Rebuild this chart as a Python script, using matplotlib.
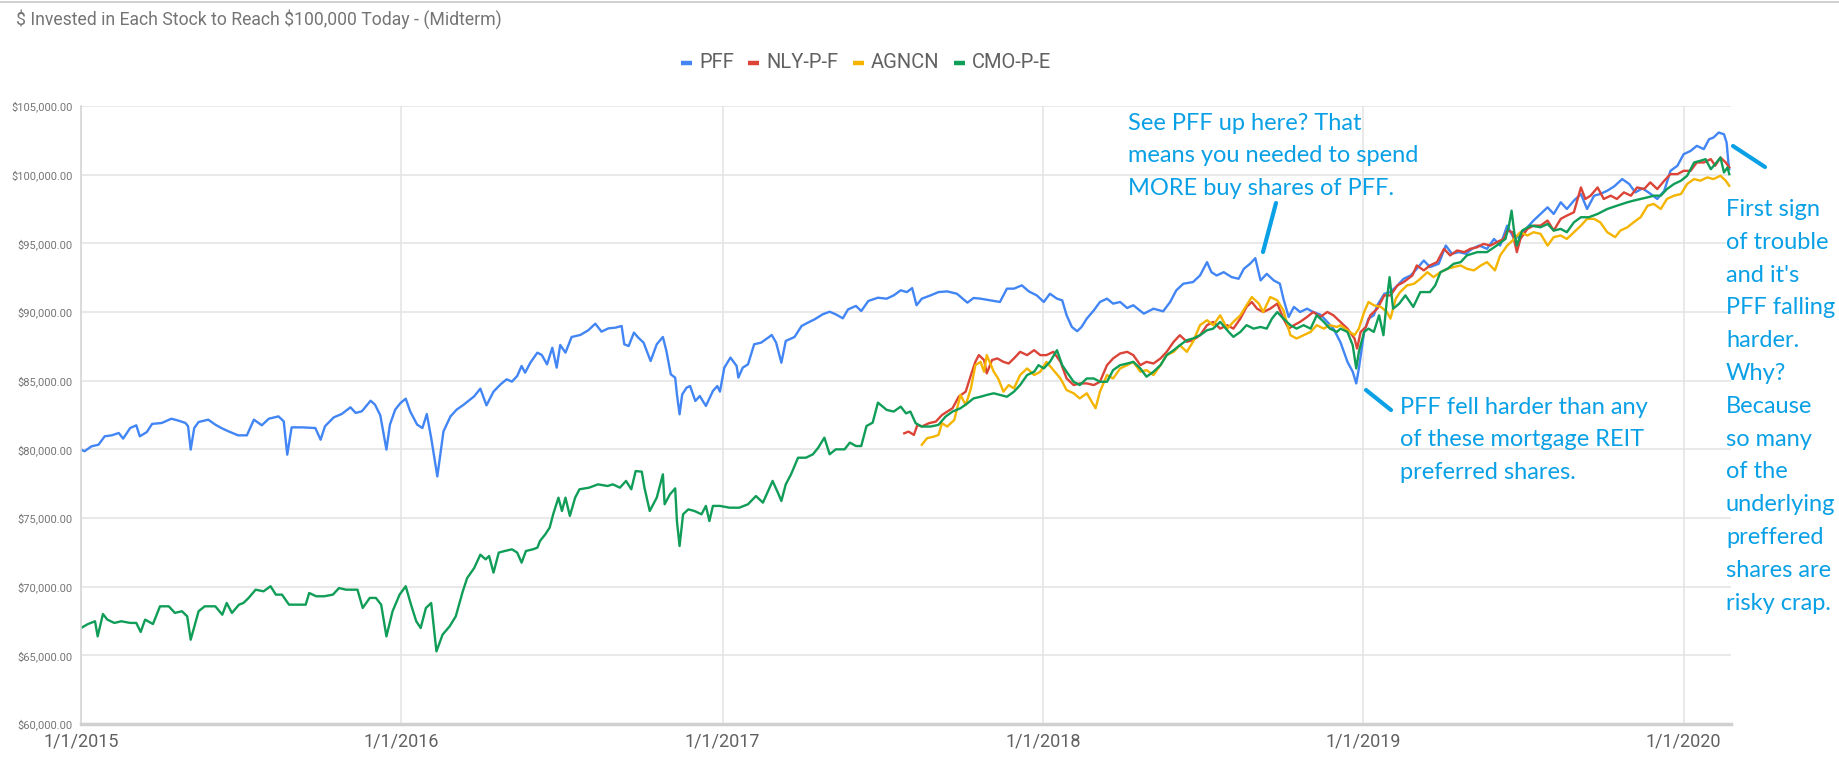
import matplotlib
matplotlib.use("Agg")
import matplotlib.pyplot as plt
from matplotlib.ticker import FuncFormatter
from matplotlib.lines import Line2D
import pandas as pd

TITLE = "$ Invested in Each Stock to Reach $100,000 Today - (Midterm)"
SERIES_NAMES = ["PFF", "NLY-P-F", "AGNCN", "CMO-P-E"]
SERIES_COLORS = ["#4285F4", "#DB4437", "#F4B400", "#0F9D58"]
X_TICKS = ["2015-01-01", "2016-01-01", "2017-01-01", "2018-01-01", "2019-01-01", "2020-01-01"]
X_TICK_LABELS = ["1/1/2015", "1/1/2016", "1/1/2017", "1/1/2018", "1/1/2019", "1/1/2020"]
Y_TICKS = [60000, 65000, 70000, 75000, 80000, 85000, 90000, 95000, 100000, 105000]

pff = [
    ("2015-01-01", 79980), ("2015-01-05", 79860), ("2015-01-13", 80220), ("2015-01-21", 80340),
    ("2015-01-28", 80950), ("2015-02-05", 81020), ("2015-02-13", 81190), ("2015-02-18", 80780),
    ("2015-02-26", 81550), ("2015-03-05", 81750), ("2015-03-09", 80950), ("2015-03-17", 81260),
    ("2015-03-23", 81850), ("2015-04-03", 81920), ("2015-04-14", 82230), ("2015-04-22", 82090),
    ("2015-04-30", 81920), ("2015-05-03", 81680), ("2015-05-06", 79980), ("2015-05-10", 81550),
    ("2015-05-15", 81990), ("2015-05-26", 82160), ("2015-06-03", 81800), ("2015-06-10", 81550),
    ("2015-06-18", 81310), ("2015-06-29", 81020), ("2015-07-09", 81020), ("2015-07-17", 82160),
    ("2015-07-26", 81750), ("2015-08-03", 82230), ("2015-08-14", 82400), ("2015-08-20", 82040),
    ("2015-08-24", 79610), ("2015-08-29", 81600), ("2015-09-10", 81600), ("2015-09-25", 81550),
    ("2015-10-01", 80700), ("2015-10-06", 81680), ("2015-10-16", 82330), ("2015-10-25", 82570),
    ("2015-11-04", 83060), ("2015-11-10", 82650), ("2015-11-17", 82770), ("2015-11-27", 83540),
    ("2015-12-02", 83250), ("2015-12-08", 82480), ("2015-12-15", 79980), ("2015-12-19", 81800),
    ("2015-12-25", 82890), ("2015-12-31", 83370), ("2016-01-06", 83690), ("2016-01-11", 82770),
    ("2016-01-19", 81800), ("2016-01-25", 81550), ("2016-01-30", 82570), ("2016-02-04", 80830),
    ("2016-02-11", 78030), ("2016-02-18", 81310), ("2016-02-26", 82400), ("2016-03-04", 82890),
    ("2016-03-12", 83250), ("2016-03-24", 83860), ("2016-03-31", 84420), ("2016-04-07", 83200),
    ("2016-04-15", 84200), ("2016-04-23", 84730), ("2016-04-30", 85100), ("2016-05-06", 84930),
    ("2016-05-12", 85340), ("2016-05-17", 86070), ("2016-05-21", 85580), ("2016-05-27", 86310),
    ("2016-06-04", 87040), ("2016-06-09", 86870), ("2016-06-15", 86190), ("2016-06-21", 87400),
    ("2016-06-26", 85950), ("2016-06-30", 87600), ("2016-07-06", 87040), ("2016-07-13", 88180),
    ("2016-07-23", 88330), ("2016-08-01", 88670), ("2016-08-09", 89150), ("2016-08-16", 88570),
    ("2016-08-24", 88810), ("2016-09-01", 88860), ("2016-09-08", 88980), ("2016-09-11", 87650),
    ("2016-09-16", 87520), ("2016-09-22", 88500), ("2016-09-27", 88130), ("2016-10-03", 87770),
    ("2016-10-11", 86430), ("2016-10-18", 87650), ("2016-10-25", 88180), ("2016-10-29", 87160),
    ("2016-11-03", 85460), ("2016-11-08", 85220), ("2016-11-10", 84000), ("2016-11-13", 82550),
    ("2016-11-16", 84000), ("2016-11-21", 84490), ("2016-11-25", 84610), ("2016-12-01", 83520),
    ("2016-12-06", 83880), ("2016-12-13", 83160), ("2016-12-21", 84250), ("2016-12-26", 84610),
    ("2016-12-29", 84200), ("2017-01-03", 85950), ("2017-01-10", 86680), ("2017-01-17", 86070),
    ("2017-01-19", 85220), ("2017-01-24", 85950), ("2017-01-30", 86190), ("2017-02-06", 87650),
    ("2017-02-14", 87770), ("2017-02-23", 88180), ("2017-02-26", 88330), ("2017-03-03", 87770),
    ("2017-03-09", 86310), ("2017-03-14", 87890), ("2017-03-24", 88180), ("2017-04-01", 88980),
    ("2017-04-08", 89220), ("2017-04-16", 89470), ("2017-04-25", 89830), ("2017-05-03", 90020),
    ("2017-05-10", 89830), ("2017-05-18", 89540), ("2017-05-24", 90190), ("2017-06-02", 90440),
    ("2017-06-08", 90070), ("2017-06-16", 90800), ("2017-06-27", 91040), ("2017-07-07", 90970),
    ("2017-07-15", 91210), ("2017-07-23", 91580), ("2017-07-30", 91450), ("2017-08-05", 91740),
    ("2017-08-10", 90490), ("2017-08-16", 90970), ("2017-08-26", 91210), ("2017-09-04", 91450),
    ("2017-09-14", 91500), ("2017-09-25", 91330), ("2017-10-07", 90680), ("2017-10-14", 91020),
    ("2017-10-22", 90970), ("2017-11-02", 90850), ("2017-11-13", 90730), ("2017-11-21", 91700),
    ("2017-11-29", 91700), ("2017-12-08", 91940), ("2017-12-16", 91500), ("2017-12-25", 91210),
    ("2018-01-02", 90730), ("2018-01-09", 91330), ("2018-01-17", 90970), ("2018-01-23", 90850),
    ("2018-01-28", 89760), ("2018-02-03", 88910), ("2018-02-09", 88600), ("2018-02-14", 88910),
    ("2018-02-20", 89520), ("2018-02-28", 90120), ("2018-03-07", 90730), ("2018-03-15", 90970),
    ("2018-03-22", 90610), ("2018-03-30", 90730), ("2018-04-07", 90290), ("2018-04-14", 90490),
    ("2018-04-26", 89880), ("2018-05-07", 90240), ("2018-05-18", 90050), ("2018-05-26", 90730),
    ("2018-06-02", 91580), ("2018-06-10", 92060), ("2018-06-21", 92180), ("2018-06-29", 92660),
    ("2018-07-07", 93630), ("2018-07-12", 92900), ("2018-07-18", 92660), ("2018-07-26", 92900),
    ("2018-08-04", 92540), ("2018-08-12", 92420), ("2018-08-18", 93150), ("2018-08-25", 93510),
    ("2018-08-31", 93920), ("2018-09-06", 92300), ("2018-09-13", 92780), ("2018-09-21", 92300),
    ("2018-09-28", 92060), ("2018-10-02", 90970), ("2018-10-08", 89640), ("2018-10-14", 90370),
    ("2018-10-21", 90000), ("2018-10-29", 90240), ("2018-11-05", 90000), ("2018-11-13", 89810),
    ("2018-11-21", 89280), ("2018-11-28", 88790), ("2018-12-06", 87800), ("2018-12-14", 86370),
    ("2018-12-20", 85650), ("2018-12-24", 84800), ("2018-12-27", 85890), ("2019-01-02", 88550),
    ("2019-01-07", 89520), ("2019-01-13", 89760), ("2019-01-17", 90490), ("2019-01-25", 91330),
    ("2019-02-01", 91450), ("2019-02-09", 91940), ("2019-02-16", 92420), ("2019-02-24", 92660),
    ("2019-03-03", 93150), ("2019-03-11", 93750), ("2019-03-18", 93270), ("2019-03-28", 93510),
    ("2019-04-05", 94840), ("2019-04-12", 94240), ("2019-04-20", 94360), ("2019-04-28", 94240),
    ("2019-05-05", 94600), ("2019-05-13", 94840), ("2019-05-22", 94600), ("2019-05-30", 95320),
    ("2019-06-06", 94840), ("2019-06-14", 96290), ("2019-06-22", 95320), ("2019-06-29", 95570),
    ("2019-07-07", 96170), ("2019-07-14", 96660), ("2019-07-22", 97140), ("2019-07-30", 97620),
    ("2019-08-06", 97140), ("2019-08-14", 97990), ("2019-08-21", 97500), ("2019-08-29", 98110),
    ("2019-09-06", 98590), ("2019-09-13", 97500), ("2019-09-21", 98470), ("2019-09-28", 98590),
    ("2019-10-06", 98830), ("2019-10-14", 99150), ("2019-10-23", 99680), ("2019-10-31", 99320),
    ("2019-11-07", 98710), ("2019-11-15", 99000), ("2019-11-22", 98710), ("2019-12-02", 98230),
    ("2019-12-10", 98830), ("2019-12-17", 100280), ("2019-12-25", 100650), ("2020-01-01", 101490),
    ("2020-01-09", 101730), ("2020-01-16", 102100), ("2020-01-24", 101860), ("2020-01-30", 102580),
    ("2020-02-04", 102700), ("2020-02-10", 103070), ("2020-02-16", 102940), ("2020-02-19", 102340),
    ("2020-02-21", 100890), ("2020-02-22", 100400),
]

nly = [
    ("2017-07-27", 81170), ("2017-08-01", 81290), ("2017-08-07", 81050), ("2017-08-11", 81780),
    ("2017-08-16", 81660), ("2017-08-24", 81900), ("2017-09-01", 82020), ("2017-09-08", 82500),
    ("2017-09-14", 82750), ("2017-09-20", 82990), ("2017-09-27", 83830), ("2017-10-05", 84200),
    ("2017-10-11", 85410), ("2017-10-16", 86370), ("2017-10-20", 86860), ("2017-10-26", 86500),
    ("2017-10-29", 85530), ("2017-11-04", 86500), ("2017-11-10", 86620), ("2017-11-17", 86370),
    ("2017-11-23", 86250), ("2017-11-29", 86620), ("2017-12-06", 87100), ("2017-12-14", 86860),
    ("2017-12-22", 87220), ("2017-12-29", 86860), ("2018-01-05", 86860), ("2018-01-13", 87100),
    ("2018-01-21", 86370), ("2018-01-28", 85160), ("2018-02-05", 84680), ("2018-02-12", 84800),
    ("2018-02-20", 84800), ("2018-02-28", 84680), ("2018-03-07", 84920), ("2018-03-15", 86130),
    ("2018-03-22", 86620), ("2018-03-30", 86980), ("2018-04-07", 87100), ("2018-04-14", 86860),
    ("2018-04-22", 86130), ("2018-04-29", 86370), ("2018-05-07", 86250), ("2018-05-15", 86620),
    ("2018-05-22", 87100), ("2018-05-30", 87830), ("2018-06-06", 88310), ("2018-06-14", 87830),
    ("2018-06-21", 87950), ("2018-06-29", 88310), ("2018-07-07", 89040), ("2018-07-14", 89280),
    ("2018-07-22", 88790), ("2018-07-30", 89040), ("2018-08-06", 88790), ("2018-08-14", 89520),
    ("2018-08-21", 90370), ("2018-08-27", 90730), ("2018-09-02", 90240), ("2018-09-09", 90000),
    ("2018-09-17", 90240), ("2018-09-25", 90610), ("2018-10-02", 89520), ("2018-10-08", 88790),
    ("2018-10-14", 89040), ("2018-10-21", 89280), ("2018-10-29", 89640), ("2018-11-05", 90000),
    ("2018-11-13", 89640), ("2018-11-21", 90000), ("2018-11-28", 89760), ("2018-12-06", 89280),
    ("2018-12-14", 88790), ("2018-12-22", 88070), ("2018-12-25", 87340), ("2018-12-29", 88550),
    ("2019-01-04", 88910), ("2019-01-09", 89760), ("2019-01-17", 90240), ("2019-01-25", 91210),
    ("2019-02-01", 91210), ("2019-02-09", 91940), ("2019-02-16", 92180), ("2019-02-26", 92660),
    ("2019-03-03", 93390), ("2019-03-11", 93030), ("2019-03-18", 93390), ("2019-03-26", 93630),
    ("2019-04-03", 94600), ("2019-04-10", 94120), ("2019-04-18", 94480), ("2019-04-26", 94360),
    ("2019-05-03", 94600), ("2019-05-11", 94720), ("2019-05-18", 94960), ("2019-05-26", 94840),
    ("2019-06-02", 95080), ("2019-06-10", 95320), ("2019-06-14", 95930), ("2019-06-20", 95810),
    ("2019-06-25", 94360), ("2019-06-29", 95320), ("2019-07-07", 96050), ("2019-07-14", 96290),
    ("2019-07-22", 96290), ("2019-07-30", 96660), ("2019-08-06", 95930), ("2019-08-14", 96780),
    ("2019-08-21", 97020), ("2019-08-29", 97260), ("2019-09-06", 99070), ("2019-09-11", 98230),
    ("2019-09-17", 98470), ("2019-09-25", 99070), ("2019-10-02", 98230), ("2019-10-10", 98470),
    ("2019-10-17", 98230), ("2019-10-25", 98710), ("2019-11-02", 98470), ("2019-11-09", 99070),
    ("2019-11-17", 98950), ("2019-11-24", 99440), ("2019-12-02", 98950), ("2019-12-10", 99560),
    ("2019-12-17", 100040), ("2019-12-25", 100040), ("2020-01-01", 100280), ("2020-01-09", 100280),
    ("2020-01-16", 100890), ("2020-01-24", 100890), ("2020-02-01", 101130), ("2020-02-06", 100650),
    ("2020-02-12", 101250), ("2020-02-18", 100890), ("2020-02-22", 100530),
]

agncn = [
    ("2017-08-16", 80330), ("2017-08-22", 80810), ("2017-08-30", 80930), ("2017-09-04", 81050),
    ("2017-09-08", 81900), ("2017-09-14", 81660), ("2017-09-22", 82140), ("2017-09-29", 83960),
    ("2017-10-05", 83230), ("2017-10-11", 84440), ("2017-10-16", 86130), ("2017-10-22", 86370),
    ("2017-10-26", 85650), ("2017-10-29", 86860), ("2017-11-06", 85650), ("2017-11-11", 85160),
    ("2017-11-17", 84200), ("2017-11-23", 84680), ("2017-11-29", 84440), ("2017-12-06", 85410),
    ("2017-12-14", 85890), ("2017-12-22", 85410), ("2017-12-29", 85650), ("2018-01-05", 86370),
    ("2018-01-13", 85770), ("2018-01-21", 85160), ("2018-01-28", 84320), ("2018-02-05", 84080),
    ("2018-02-12", 83710), ("2018-02-20", 84080), ("2018-03-02", 82990), ("2018-03-07", 84200),
    ("2018-03-15", 85410), ("2018-03-22", 85160), ("2018-03-30", 85890), ("2018-04-07", 86130),
    ("2018-04-14", 86370), ("2018-04-22", 85650), ("2018-04-29", 85770), ("2018-05-07", 85410),
    ("2018-05-15", 86130), ("2018-05-22", 86860), ("2018-05-30", 87100), ("2018-06-06", 87580),
    ("2018-06-14", 87100), ("2018-06-21", 87830), ("2018-06-29", 89040), ("2018-07-07", 89400),
    ("2018-07-14", 89040), ("2018-07-22", 89760), ("2018-07-30", 88790), ("2018-08-06", 89280),
    ("2018-08-14", 89760), ("2018-08-21", 90490), ("2018-08-27", 91090), ("2018-09-04", 90610),
    ("2018-09-09", 90000), ("2018-09-17", 91090), ("2018-09-25", 90850), ("2018-10-02", 90120),
    ("2018-10-10", 88310), ("2018-10-17", 88070), ("2018-10-25", 88310), ("2018-11-02", 88550),
    ("2018-11-09", 89040), ("2018-11-17", 88790), ("2018-11-24", 89040), ("2018-12-02", 88910),
    ("2018-12-06", 89040), ("2018-12-14", 88670), ("2018-12-22", 88310), ("2018-12-27", 88790),
    ("2019-01-02", 90000), ("2019-01-07", 90730), ("2019-01-13", 90490), ("2019-01-21", 90370),
    ("2019-01-28", 90000), ("2019-02-01", 89520), ("2019-02-07", 90970), ("2019-02-12", 91450),
    ("2019-02-20", 91940), ("2019-02-28", 92060), ("2019-03-07", 92420), ("2019-03-15", 92900),
    ("2019-03-22", 92540), ("2019-03-30", 92900), ("2019-04-07", 93150), ("2019-04-14", 93270),
    ("2019-04-22", 93390), ("2019-04-29", 93150), ("2019-05-07", 93030), ("2019-05-15", 93390),
    ("2019-05-22", 93630), ("2019-05-31", 93030), ("2019-06-06", 94120), ("2019-06-14", 94840),
    ("2019-06-22", 95320), ("2019-06-29", 95810), ("2019-07-07", 95570), ("2019-07-14", 95810),
    ("2019-07-22", 95690), ("2019-07-30", 94840), ("2019-08-06", 95450), ("2019-08-14", 95570),
    ("2019-08-21", 95320), ("2019-08-29", 95810), ("2019-09-06", 96290), ("2019-09-13", 96780),
    ("2019-09-21", 96780), ("2019-09-28", 96530), ("2019-10-06", 95810), ("2019-10-15", 95450),
    ("2019-10-21", 95930), ("2019-10-29", 96170), ("2019-11-05", 96530), ("2019-11-13", 96900),
    ("2019-11-21", 97740), ("2019-11-28", 97870), ("2019-12-06", 97500), ("2019-12-13", 98230),
    ("2019-12-21", 98470), ("2019-12-29", 98590), ("2020-01-05", 99320), ("2020-01-13", 99680),
    ("2020-01-20", 99560), ("2020-01-28", 99800), ("2020-02-04", 99680), ("2020-02-12", 99920),
    ("2020-02-18", 99560), ("2020-02-22", 99190),
]

cmo = [
    ("2015-01-01", 66990), ("2015-01-09", 67280), ("2015-01-17", 67480), ("2015-01-20", 66380),
    ("2015-01-26", 68010), ("2015-01-31", 67600), ("2015-02-08", 67360), ("2015-02-16", 67480),
    ("2015-02-26", 67360), ("2015-03-05", 67360), ("2015-03-10", 66700), ("2015-03-15", 67600),
    ("2015-03-24", 67280), ("2015-04-01", 68570), ("2015-04-11", 68570), ("2015-04-18", 68090),
    ("2015-04-26", 68210), ("2015-05-02", 67840), ("2015-05-06", 66140), ("2015-05-15", 68210),
    ("2015-05-22", 68570), ("2015-06-03", 68570), ("2015-06-11", 67960), ("2015-06-16", 68810),
    ("2015-06-22", 68090), ("2015-06-30", 68690), ("2015-07-05", 68810), ("2015-07-11", 69180),
    ("2015-07-19", 69780), ("2015-07-28", 69660), ("2015-08-05", 70030), ("2015-08-11", 69420),
    ("2015-08-18", 69420), ("2015-08-26", 68690), ("2015-09-03", 68690), ("2015-09-14", 68690),
    ("2015-09-18", 69540), ("2015-09-26", 69300), ("2015-10-05", 69300), ("2015-10-15", 69420),
    ("2015-10-22", 69900), ("2015-10-30", 69780), ("2015-11-07", 69780), ("2015-11-12", 69780),
    ("2015-11-18", 68450), ("2015-11-26", 69180), ("2015-12-03", 69180), ("2015-12-09", 68690),
    ("2015-12-15", 66380), ("2015-12-22", 68210), ("2015-12-30", 69420), ("2016-01-06", 70030),
    ("2016-01-12", 68690), ("2016-01-18", 67480), ("2016-01-23", 66990), ("2016-01-29", 68450),
    ("2016-02-04", 68810), ("2016-02-10", 65290), ("2016-02-17", 66510), ("2016-02-25", 67110),
    ("2016-03-03", 67840), ("2016-03-11", 69660), ("2016-03-16", 70630), ("2016-03-24", 71360),
    ("2016-03-31", 72330), ("2016-04-06", 71990), ("2016-04-10", 72230), ("2016-04-15", 71020),
    ("2016-04-21", 72480), ("2016-04-28", 72600), ("2016-05-06", 72720), ("2016-05-12", 72480),
    ("2016-05-17", 71750), ("2016-05-22", 72600), ("2016-05-30", 72720), ("2016-06-04", 72840),
    ("2016-06-07", 73330), ("2016-06-13", 73810), ("2016-06-18", 74300), ("2016-06-22", 75270),
    ("2016-06-28", 76480), ("2016-07-02", 75510), ("2016-07-06", 76480), ("2016-07-11", 75150),
    ("2016-07-17", 76480), ("2016-07-22", 77090), ("2016-08-02", 77210), ("2016-08-12", 77450),
    ("2016-08-23", 77330), ("2016-08-29", 77450), ("2016-09-06", 77210), ("2016-09-13", 77700),
    ("2016-09-19", 77090), ("2016-09-24", 78420), ("2016-10-01", 78370), ("2016-10-04", 77210),
    ("2016-10-10", 75510), ("2016-10-18", 76480), ("2016-10-25", 78180), ("2016-10-27", 76000),
    ("2016-11-02", 76720), ("2016-11-08", 77160), ("2016-11-10", 74780), ("2016-11-13", 72960),
    ("2016-11-17", 75270), ("2016-11-23", 75630), ("2016-11-30", 75510), ("2016-12-08", 75270),
    ("2016-12-13", 75880), ("2016-12-17", 74780), ("2016-12-21", 75880), ("2016-12-29", 75880),
    ("2017-01-09", 75750), ("2017-01-20", 75750), ("2017-01-30", 76000), ("2017-02-08", 76600),
    ("2017-02-16", 76120), ("2017-02-27", 77700), ("2017-03-05", 76850), ("2017-03-09", 76240),
    ("2017-03-14", 77450), ("2017-03-20", 78180), ("2017-03-28", 79390), ("2017-04-06", 79390),
    ("2017-04-14", 79640), ("2017-04-20", 80120), ("2017-04-27", 80850), ("2017-05-03", 79640),
    ("2017-05-10", 80000), ("2017-05-20", 80000), ("2017-05-26", 80490), ("2017-06-02", 80240),
    ("2017-06-08", 80240), ("2017-06-14", 81700), ("2017-06-21", 81940), ("2017-06-27", 83400),
    ("2017-07-07", 82870), ("2017-07-15", 82750), ("2017-07-23", 83110), ("2017-07-29", 82620),
    ("2017-08-03", 82750), ("2017-08-09", 81900), ("2017-08-16", 81660), ("2017-08-26", 81660),
    ("2017-09-04", 81780), ("2017-09-12", 82380), ("2017-09-20", 82750), ("2017-09-29", 82990),
    ("2017-10-07", 83350), ("2017-10-14", 83710), ("2017-10-22", 83830), ("2017-10-29", 83960),
    ("2017-11-06", 84080), ("2017-11-13", 83960), ("2017-11-21", 83830), ("2017-11-29", 84200),
    ("2017-12-06", 84680), ("2017-12-14", 85410), ("2017-12-22", 85650), ("2017-12-27", 86130),
    ("2018-01-02", 85890), ("2018-01-09", 86370), ("2018-01-17", 87220), ("2018-01-23", 86130),
    ("2018-01-28", 85650), ("2018-02-05", 84920), ("2018-02-12", 84680), ("2018-02-20", 85160),
    ("2018-02-28", 85160), ("2018-03-07", 84920), ("2018-03-15", 84920), ("2018-03-22", 85770),
    ("2018-03-30", 86130), ("2018-04-07", 86250), ("2018-04-14", 86370), ("2018-04-22", 85890),
    ("2018-04-29", 85290), ("2018-05-07", 85650), ("2018-05-15", 86130), ("2018-05-22", 86860),
    ("2018-05-30", 87220), ("2018-06-06", 87580), ("2018-06-14", 87950), ("2018-06-21", 88070),
    ("2018-06-29", 88310), ("2018-07-07", 88670), ("2018-07-14", 88790), ("2018-07-22", 89280),
    ("2018-07-30", 88670), ("2018-08-06", 88190), ("2018-08-14", 88550), ("2018-08-21", 89040),
    ("2018-08-29", 88790), ("2018-09-06", 88910), ("2018-09-13", 88790), ("2018-09-19", 89520),
    ("2018-09-25", 90000), ("2018-10-02", 89520), ("2018-10-10", 89040), ("2018-10-17", 88790),
    ("2018-10-25", 89040), ("2018-11-02", 88790), ("2018-11-09", 89760), ("2018-11-17", 89280),
    ("2018-11-24", 88790), ("2018-12-02", 88550), ("2018-12-06", 88790), ("2018-12-14", 88550),
    ("2018-12-20", 87580), ("2018-12-24", 85890), ("2018-12-27", 87100), ("2019-01-02", 88550),
    ("2019-01-07", 88790), ("2019-01-13", 88550), ("2019-01-19", 89760), ("2019-01-24", 88310),
    ("2019-01-28", 90970), ("2019-01-31", 92540), ("2019-02-04", 90240), ("2019-02-11", 90610),
    ("2019-02-18", 91210), ("2019-02-27", 90370), ("2019-03-07", 91450), ("2019-03-18", 91450),
    ("2019-03-24", 91940), ("2019-03-30", 92900), ("2019-04-07", 93150), ("2019-04-14", 93510),
    ("2019-04-22", 93630), ("2019-04-29", 94120), ("2019-05-11", 94360), ("2019-05-22", 94360),
    ("2019-06-02", 94840), ("2019-06-12", 95320), ("2019-06-16", 96290), ("2019-06-19", 97380),
    ("2019-06-22", 95810), ("2019-06-25", 94840), ("2019-07-01", 95930), ("2019-07-11", 96290),
    ("2019-07-22", 96170), ("2019-07-30", 96410), ("2019-08-06", 95930), ("2019-08-14", 96050),
    ("2019-08-21", 95810), ("2019-08-29", 96530), ("2019-09-06", 96900), ("2019-09-15", 96900),
    ("2019-09-25", 97140), ("2019-10-06", 97500), ("2019-10-17", 97740), ("2019-10-29", 97990),
    ("2019-11-05", 98110), ("2019-11-13", 98230), ("2019-11-21", 98350), ("2019-11-28", 98470),
    ("2019-12-06", 98470), ("2019-12-13", 98950), ("2019-12-21", 99320), ("2019-12-29", 99560),
    ("2020-01-05", 99920), ("2020-01-13", 100890), ("2020-01-20", 101010), ("2020-01-26", 101130),
    ("2020-02-01", 100400), ("2020-02-06", 100770), ("2020-02-12", 101250), ("2020-02-16", 100160),
    ("2020-02-20", 100530), ("2020-02-22", 100040),
]

ANNOTATIONS = [
    "See PFF up here? That\nmeans you needed to spend\nMORE buy shares of PFF.",
    "PFF fell harder than any\nof these mortgage REIT\npreferred shares.",
    "First sign\nof trouble\nand it's\nPFF falling\nharder.\nWhy?\nBecause\nso many\nof the\nunderlying\npreffered\nshares are\nrisky crap.",
]

W, H = 1840, 775
fig = plt.figure(figsize=(W / 100, H / 100), dpi=100)
fig.patch.set_facecolor("white")

def fx(px):
    return px / W

def fy(py):
    return 1 - py / H

ax = fig.add_axes([fx(81), fy(724), fx(1731) - fx(81), fy(106) - fy(724)])

all_series = [pff, nly, agncn, cmo]
for data, name, color in zip(all_series, SERIES_NAMES, SERIES_COLORS):
    d = pd.to_datetime([p[0] for p in data])
    v = [p[1] for p in data]
    ax.plot(d, v, color=color, lw=1.7, label=name, solid_joinstyle="round")

ax.set_ylim(60000, 105000)
ax.set_xlim(pd.Timestamp("2015-01-01"), pd.Timestamp("2020-02-24"))
ax.set_yticks(Y_TICKS)
ax.yaxis.set_major_formatter(FuncFormatter(lambda v, p: "${:,.2f}".format(v)))
ax.set_xticks(pd.to_datetime(X_TICKS))
ax.set_xticklabels(X_TICK_LABELS)
ax.grid(True, color="#e3e3e3", lw=1.1)
ax.set_axisbelow(True)
for s in ["top", "right"]:
    ax.spines[s].set_visible(False)
ax.spines["left"].set_color("#d6d6d6")
ax.spines["left"].set_linewidth(1.2)
ax.spines["bottom"].set_color("#d0d0d0")
ax.spines["bottom"].set_linewidth(2.5)
ax.tick_params(axis="y", length=0, pad=6, labelsize=8, labelcolor="#757575")
ax.tick_params(axis="x", length=0, pad=6, labelsize=13, labelcolor="#616161")
for lbl in ax.get_yticklabels() + ax.get_xticklabels():
    lbl.set_fontfamily("Roboto")

# thin spreadsheet border at the very top
fig.add_artist(Line2D([0, 1], [fy(1.5), fy(1.5)], transform=fig.transFigure,
                      color="#c8c8c8", lw=1.2))

fig.text(fx(16), fy(19), TITLE, fontsize=12.7, color="#757575", family="Roboto",
         ha="left", va="center", parse_math=False)

# legend laid out item by item
renderer = fig.canvas.get_renderer()
lx = 681.0
ly = 63.0
for name, color in zip(SERIES_NAMES, SERIES_COLORS):
    fig.add_artist(Line2D([fx(lx), fx(lx + 11)], [fy(ly), fy(ly)], transform=fig.transFigure,
                          color=color, lw=3.2, solid_capstyle="butt"))
    t = fig.text(fx(lx + 18), fy(ly), name, fontsize=14.5, color="#616161", family="Roboto",
                 ha="left", va="center")
    w = t.get_window_extent(renderer=renderer).width
    lx = lx + 18 + w + 14.5

ACOL = "#0AA0E6"
AFONT = {"family": "Lato", "size": 17, "color": ACOL}
LINE_STEP = 32.8
blocks = [(ANNOTATIONS[0], 1128, 129.5), (ANNOTATIONS[1], 1400, 413.5), (ANNOTATIONS[2], 1726, 216.0)]
for text, x0, base0 in blocks:
    for i, line in enumerate(text.split("\n")):
        fig.text(fx(x0), fy(base0 + i * LINE_STEP), line, ha="left", va="baseline", **AFONT)

for (x0, y0, x1, y1) in [(1276, 203, 1263, 252), (1366, 390, 1391, 410), (1733, 146, 1765, 167)]:
    fig.add_artist(Line2D([fx(x0), fx(x1)], [fy(y0), fy(y1)], transform=fig.transFigure,
                          color=ACOL, lw=3, solid_capstyle="round"))

fig.savefig("out.png", dpi=100, facecolor="white")
